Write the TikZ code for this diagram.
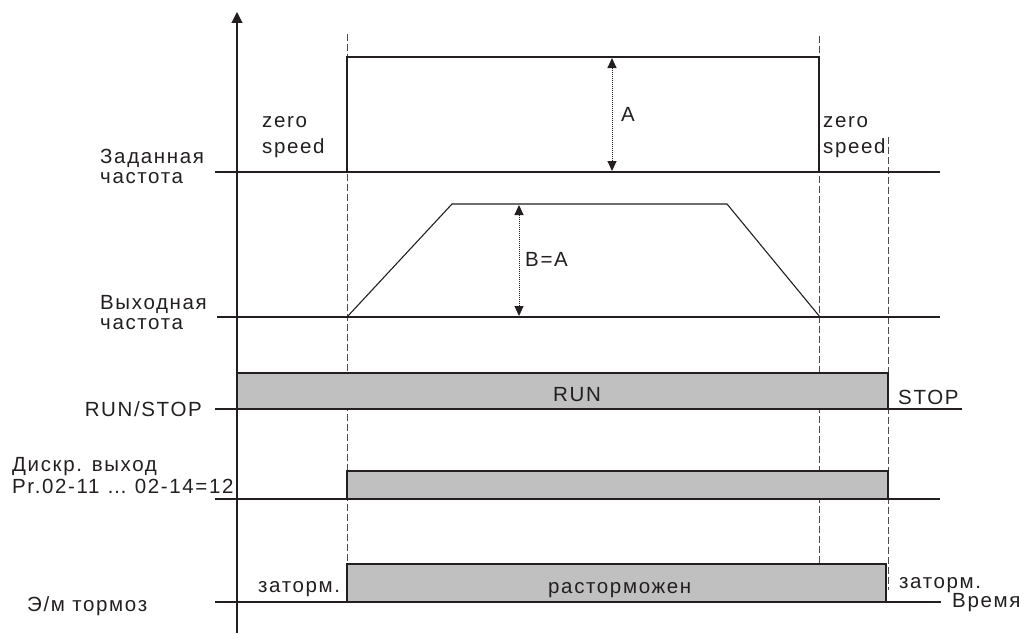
\documentclass[tikz,border=0pt]{standalone}
\usepackage{fontspec}
\setmainfont{Liberation Sans}[LetterSpace=8]
\usetikzlibrary{arrows.meta, positioning}
\definecolor{barGray}{RGB}{192,192,192}
\definecolor{inkDark}{RGB}{35,31,32}
\definecolor{dashGray}{RGB}{75,75,75}

\begin{document}
\begin{tikzpicture}[
            x=1pt, y=-1pt,
            every node/.style={font=\fontsize{20.5}{20}\selectfont, text=inkDark, inner sep=0pt, align=left},
            level/.style={draw=inkDark, line width=1.1pt},
            marker/.style={draw=dashGray, line width=1pt, dash pattern=on 7pt off 3pt},
            bar/.style={fill=barGray, draw=inkDark, line width=1.1pt},
            dimarrow/.style={{Triangle[length=10pt,width=9pt]}-{Triangle[length=10pt,width=9pt]}, densely dotted, line width=1pt, draw=inkDark},
            lbl/.style={anchor=base west}
        ]
            \useasboundingbox (0,0) rectangle (1019,634);
            % time marks
            \coordinate (startTop) at (347,34);
            \coordinate (startBot) at (347,566);
            \coordinate (zeroTop) at (819,36);
            \coordinate (zeroBot) at (819,565);
            \coordinate (stopTop) at (888,137);
            \coordinate (stopBot) at (888,590);
            \draw[marker] (startTop) -- (startBot);
            \draw[marker] (zeroTop) -- (zeroBot);
            \draw[marker] (stopTop) -- (stopBot);
            % axis
            \coordinate (axisBot) at (237,633);
            \coordinate (axisTop) at (237,12);
            \draw[level, -{Triangle[length=11pt,width=11pt]}] (axisBot) -- (axisTop);
            % frequencies
            \draw[level] (215,172) -- (940,172);
            \draw[level] (347,172) -- (347,57) -- (819,57) -- (819,172);
            \draw[level] (217,317) -- (940,317);
            \draw[level] (347,317) -- (452,204) -- (727,204) -- (820,317);
            \coordinate (aTop) at (612,58);
            \coordinate (aBot) at (612,171);
            \coordinate (bTop) at (519,205);
            \coordinate (bBot) at (519,316);
            \draw[dimarrow] (aTop) -- (aBot);
            \draw[dimarrow] (bTop) -- (bBot);
            % bars
            \draw[bar] (237,373) rectangle (888,409);
            \draw[level] (215,409) -- (962,409);
            \draw[bar] (347,471) rectangle (888,499);
            \draw[level] (215,499) -- (940,499);
            \draw[bar] (347,564) rectangle (886,602);
            \draw[level] (215,602) -- (941,602);
            % labels (base = last line)
            \node[lbl] (setFreq) at (100,183) {Заданная\\частота};
            \node[lbl] (outFreq) at (100,329) {Выходная\\частота};
            \node[lbl] (zeroLeft) at (262,153) {zero\\[6pt]speed};
            \node[lbl] (zeroRight) at (823,153) {zero\\[6pt]speed};
            \node[lbl] (labelA) at (621,121) {A};
            \node[lbl] (labelB) at (525,266) {B=A};
            \node[lbl] (run) at (553,401) {RUN};
            \node[lbl] (stop) at (898,404) {STOP};
            \node[anchor=base east] (runStop) at (202,416) {RUN/STOP};
            \node[lbl] (digOut) at (12,493) {Дискр. выход\\[2pt]Pr.02-11 … 02-14=12};
            \node[lbl] (brake) at (27,611) {Э/м тормоз};
            \node[lbl] (heldLeft) at (258,592) {заторм.};
            \node[lbl] (released) at (548,593) {расторможен};
            \node[lbl] (heldRight) at (899,588) {заторм.};
            \node[lbl] (timeLabel) at (952,607) {Время};
        \end{tikzpicture}
\end{document}
